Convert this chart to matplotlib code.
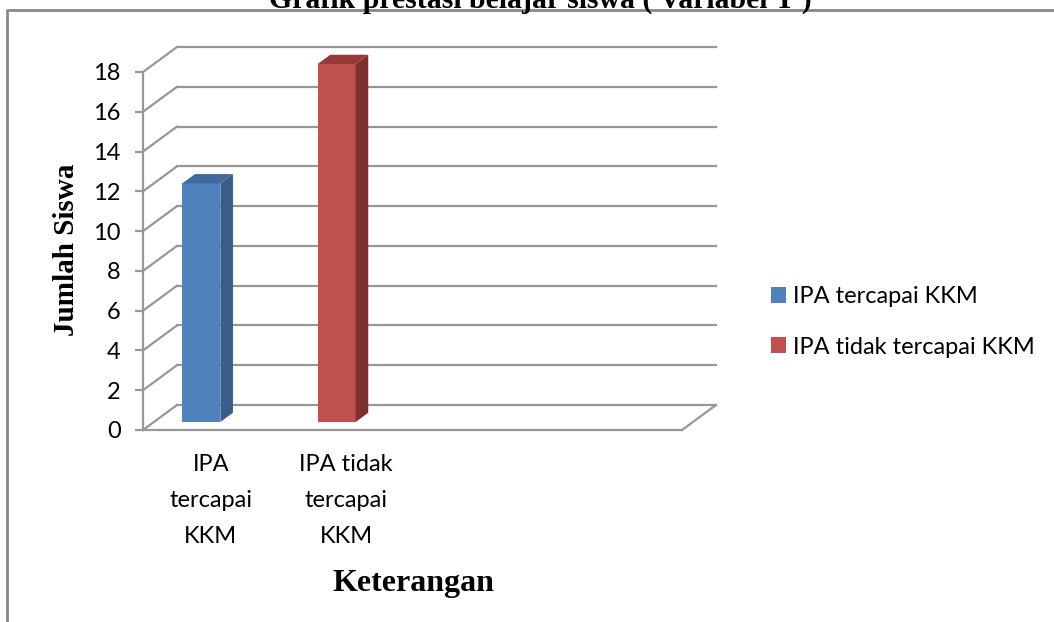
import matplotlib.pyplot as plt
from matplotlib.patches import Polygon
from matplotlib.lines import Line2D
import numpy as np

# data
categories = ["IPA\ntercapai\nKKM", "IPA tidak\ntercapai\nKKM"]
series = ["IPA tercapai KKM", "IPA tidak tercapai KKM"]
values = [12, 18]
yticks = [0, 2, 4, 6, 8, 10, 12, 14, 16, 18]

front = ["#4F81BD", "#C0504D"]
side = ["#385D8A", "#7F302E"]
top = ["#41699C", "#963A37"]
grid = "#979797"

W, H = 1054, 622
fig = plt.figure(figsize=(W / 100, H / 100), dpi=100)

# front plane of the 3D box, pixel layout
left_px, right_px, y0_px, y18_px = 143, 682, 430, 72
ax = fig.add_axes([left_px / W, (H - y0_px) / H, (right_px - left_px) / W, (y0_px - y18_px) / H])
xlo, xhi = -0.351, 3.633
ax.set_xlim(xlo, xhi)
ax.set_ylim(0, 18)

# depth offset (pixels -> data units)
px_x = (xhi - xlo) / (right_px - left_px)
px_y = 18 / (y0_px - y18_px)
ddx, ddy = 34 * px_x, 25 * px_y

# walls and floor
for t in yticks:
    ax.plot([xlo + ddx, xhi + ddx], [t + ddy, t + ddy], color=grid, lw=1.6, clip_on=False, zorder=1)
    ax.plot([xlo, xlo + ddx], [t, t + ddy], color=grid, lw=1.6, clip_on=False, zorder=1)
ax.plot([xlo, xhi], [0, 0], color=grid, lw=1.6, clip_on=False, zorder=1)
ax.plot([xhi, xhi + ddx], [0, ddy], color=grid, lw=1.6, clip_on=False, zorder=1)

# 3D bars
x = np.arange(len(values))
w = 38 * px_x
d0, d1 = 0.32, 0.69
bars = ax.bar(x + d0 * ddx, values, width=w, bottom=d0 * ddy, color=front, zorder=3, label=series)
for r in bars:
    r.set_clip_on(False)
for i, v in enumerate(values):
    xl = x[i] - w / 2 + d0 * ddx
    xr = x[i] + w / 2 + d0 * ddx
    b = d0 * ddy
    dx, dy = (d1 - d0) * ddx, (d1 - d0) * ddy
    ax.add_patch(Polygon([(xr, b), (xr + dx, b + dy), (xr + dx, b + v + dy), (xr, b + v)],
                         closed=True, fc=side[i], ec="none", zorder=3, clip_on=False))
    ax.add_patch(Polygon([(xl, b + v), (xr, b + v), (xr + dx, b + v + dy), (xl + dx, b + v + dy)],
                         closed=True, fc=top[i], ec="none", zorder=3, clip_on=False))

# axes styling
for s in ["top", "right", "bottom"]:
    ax.spines[s].set_visible(False)
ax.spines["left"].set_color(grid)
ax.spines["left"].set_linewidth(1.6)
ax.set_yticks(yticks)
ax.tick_params(axis="y", length=6, width=1.6, color=grid, pad=10, labelsize=17)
ax.set_xticks(x + 0.6 * ddx)
ax.set_xticklabels(categories, fontsize=17, linespacing=1.9)
ax.tick_params(axis="x", length=0, pad=17)
for lab in ax.get_xticklabels() + ax.get_yticklabels():
    lab.set_family("Lato")
ax.patch.set_visible(False)

# texts
fig.text(540 / W, (H - 8) / H, "Grafik prestasi belajar siswa ( Variabel Y )", ha="center", va="baseline",
         family="Liberation Serif", weight="bold", fontsize=21.4)
fig.text(413 / W, (H - 583) / H, "Keterangan", ha="center", va="center",
         family="Liberation Serif", weight="bold", fontsize=23)
fig.text(67 / W, (H - 250) / H, "Jumlah Siswa", ha="center", va="center", rotation=90,
         family="Liberation Serif", weight="bold", fontsize=21)

leg = ax.legend(handles=list(bars), labels=series, loc="upper left", bbox_to_anchor=(771 / W, (H - 286) / H),
                bbox_transform=fig.transFigure, frameon=False, handlelength=0.65, handleheight=0.65,
                handletextpad=0.3, labelspacing=1.25, borderpad=0, borderaxespad=0,
                prop={"family": "Lato", "size": 17})

# chart border
fig.add_artist(Line2D([7 / W, 7 / W, 1.0], [0, (H - 10) / H, (H - 10) / H], color="#878787", lw=2,
                      transform=fig.transFigure))

fig.savefig("out.png", dpi=100)
